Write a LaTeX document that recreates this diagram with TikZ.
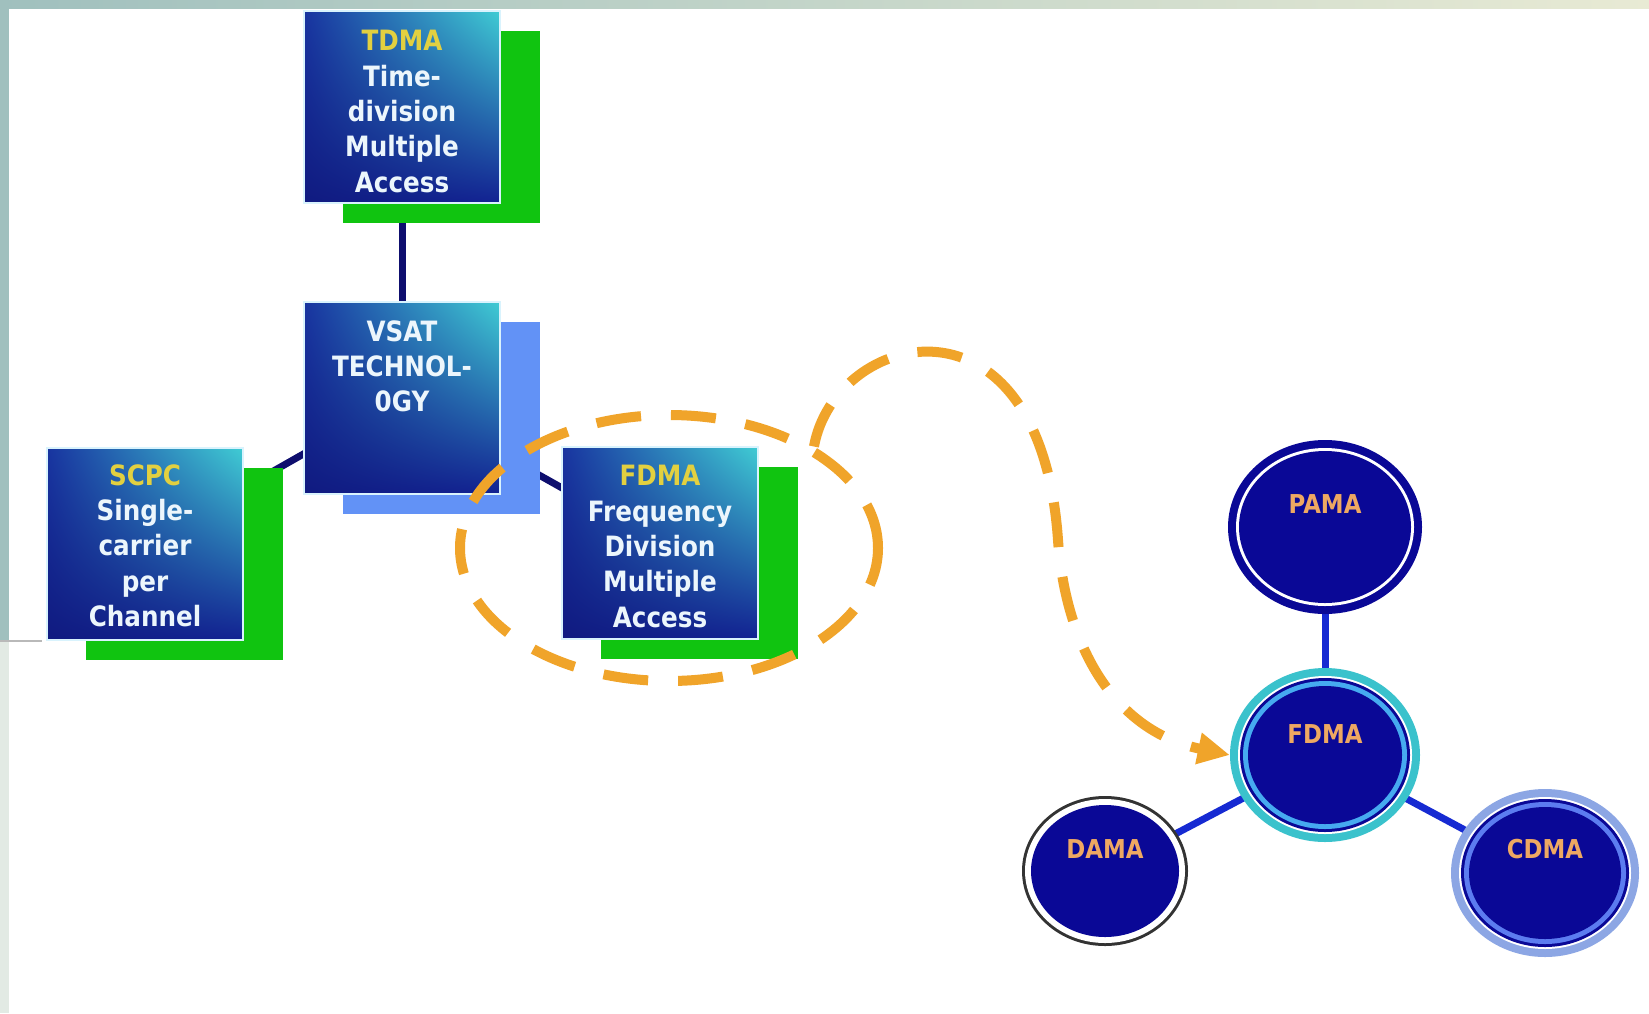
\documentclass[tikz,border=0pt]{standalone}
\usepackage{fontspec}
\setmainfont{DejaVu Sans}[FakeStretch=0.88]
\usetikzlibrary{shapes.geometric,arrows.meta,backgrounds,shadings}

\definecolor{navy}{RGB}{10,8,150}
\definecolor{boxtl}{RGB}{24,52,160}
\definecolor{boxtr}{RGB}{64,204,212}
\definecolor{boxbl}{RGB}{16,26,128}
\definecolor{boxbr}{RGB}{18,34,146}
\definecolor{shgreen}{RGB}{16,196,16}
\definecolor{shblue}{RGB}{98,146,246}
\definecolor{linknavy}{RGB}{14,14,110}
\definecolor{linkblue}{RGB}{22,42,210}
\definecolor{dashorange}{RGB}{240,164,42}
\definecolor{txtorange}{RGB}{238,168,98}
\definecolor{txtyellow}{RGB}{226,208,64}
\definecolor{txtwhite}{RGB}{236,246,252}
\definecolor{ringteal}{RGB}{58,194,204}
\definecolor{ringlight}{RGB}{70,170,240}
\definecolor{ringsteel}{RGB}{140,166,228}
\definecolor{ringmid}{RGB}{92,124,240}
\definecolor{stripl}{RGB}{160,192,190}
\definecolor{stripr}{RGB}{232,234,212}
\definecolor{striplow}{RGB}{226,234,228}

\tikzstyle{blk} = [rectangle, minimum width=196pt, minimum height=192pt, inner sep=0pt, draw=white!85!cyan, line width=1.5pt, upper left=boxtl, upper right=boxtr, lower left=boxbl, lower right=boxbr]
\tikzstyle{shd} = [rectangle, minimum width=197pt, minimum height=192pt, inner sep=0pt]
\tikzstyle{txt} = [text=txtwhite, font=\bfseries\fontsize{28}{35.3}\selectfont, align=center, anchor=north, inner sep=0pt]

\begin{document}
\begin{tikzpicture}[x=1pt, y=-1pt,
		ring/.style={ellipse, inner sep=0pt, draw=none},
		lbl/.style={text=txtorange, font=\bfseries\fontsize{26}{30}\selectfont, inner sep=0pt},
		link/.style={line width=7pt},
		dsh/.style={draw=dashorange, line width=10pt, dash pattern=on 45pt off 30pt}]
		\useasboundingbox (0,0) rectangle (1649,1013);

		\node[blk] (tdma) at (402,107) {};
		\node[txt] (tdmat) at ([yshift=-20pt]tdma.north) {\textcolor{txtyellow}{TDMA}\\Time-\\division\\Multiple\\Access};
		\node[blk] (vsat) at (402,398) {};
		\node[txt] (vsatt) at ([yshift=-19pt]vsat.north) {VSAT\\TECHNOL-\\0GY};
		\node[blk] (scpc) at (145,544) {};
		\node[txt] (scpct) at ([yshift=-17pt]scpc.north) {\textcolor{txtyellow}{SCPC}\\Single-\\carrier\\per\\Channel};
		\node[blk] (fdma) at (660,543) {};
		\node[txt] (fdmat) at ([yshift=-19pt]fdma.north) {\textcolor{txtyellow}{FDMA}\\Frequency\\Division\\Multiple\\Access};

		\node[ring, fill=navy, minimum width=194pt, minimum height=174pt] (pama) at (1325,527) {};
		\fill[white] (pama.center) ellipse (89pt and 79pt);
		\fill[navy] (pama.center) ellipse (86pt and 76pt);
		\node[lbl] (pamat) at ([yshift=23pt]pama.center) {PAMA};

		\node[ring, fill=ringteal, minimum width=190pt, minimum height=174pt] (fdmac) at (1325,755) {};
		\fill[white] (fdmac.center) ellipse (87pt and 79pt);
		\fill[navy] (fdmac.center) ellipse (85pt and 77pt);
		\fill[ringlight] (fdmac.center) ellipse (82pt and 74pt);
		\fill[navy] (fdmac.center) ellipse (77pt and 69pt);
		\node[lbl] (fdmact) at ([yshift=21pt]fdmac.center) {FDMA};

		\node[ring, fill=black!80, minimum width=166pt, minimum height=150pt] (dama) at (1105,871) {};
		\fill[white] (dama.center) ellipse (80pt and 72pt);
		\fill[navy] (dama.center) ellipse (74pt and 66pt);
		\node[lbl] (damat) at ([yshift=22pt]dama.center) {DAMA};

		\node[ring, fill=ringsteel, minimum width=188pt, minimum height=168pt] (cdma) at (1545,873) {};
		\fill[white] (cdma.center) ellipse (86pt and 76pt);
		\fill[navy] (cdma.center) ellipse (84pt and 74pt);
		\fill[ringmid] (cdma.center) ellipse (81pt and 71pt);
		\fill[navy] (cdma.center) ellipse (76pt and 66pt);
		\node[lbl] (cdmat) at ([yshift=24pt]cdma.center) {CDMA};

		\node[ring, dsh, minimum width=418pt, minimum height=266pt] (focus) at (669,548) {};
		\draw[dsh, -{Triangle[length=32pt, width=30pt]}] (focus.35) .. controls (835,330) and (1040,280) .. (1058,540) .. controls (1065,640) and (1110,730) .. (fdmac.west);

		\begin{pgfonlayer}{background}
			\fill[white] (0,0) rectangle (1649,1013);
			\shade[left color=stripl, right color=stripr] (0,0) rectangle (1649,8);
			\fill[stripl] (0,0) rectangle (9,641);
			\fill[striplow] (0,641) rectangle (9,1013);
			\draw[gray!55, line width=1.5pt] (0,641) -- (42,641);
			\draw[link, linknavy] (tdma.center) -- (vsat.center);
			\draw[link, linknavy] (vsat.center) -- (scpc.center);
			\draw[link, linknavy] (vsat.center) -- (fdma.center);
			\draw[link, linkblue] (pama.center) -- (fdmac.center);
			\draw[link, linkblue] (fdmac.center) -- (dama.center);
			\draw[link, linkblue] (fdmac.center) -- (cdma.center);
			\node[shd, fill=shgreen] (tdmas) at ([shift={(39,20)}]tdma.center) {};
			\node[shd, fill=shblue] (vsats) at ([shift={(39,20)}]vsat.center) {};
			\node[shd, fill=shgreen] (scpcs) at ([shift={(39,20)}]scpc.center) {};
			\node[shd, fill=shgreen] (fdmas) at ([shift={(39,20)}]fdma.center) {};
		\end{pgfonlayer}
	\end{tikzpicture}
\end{document}
